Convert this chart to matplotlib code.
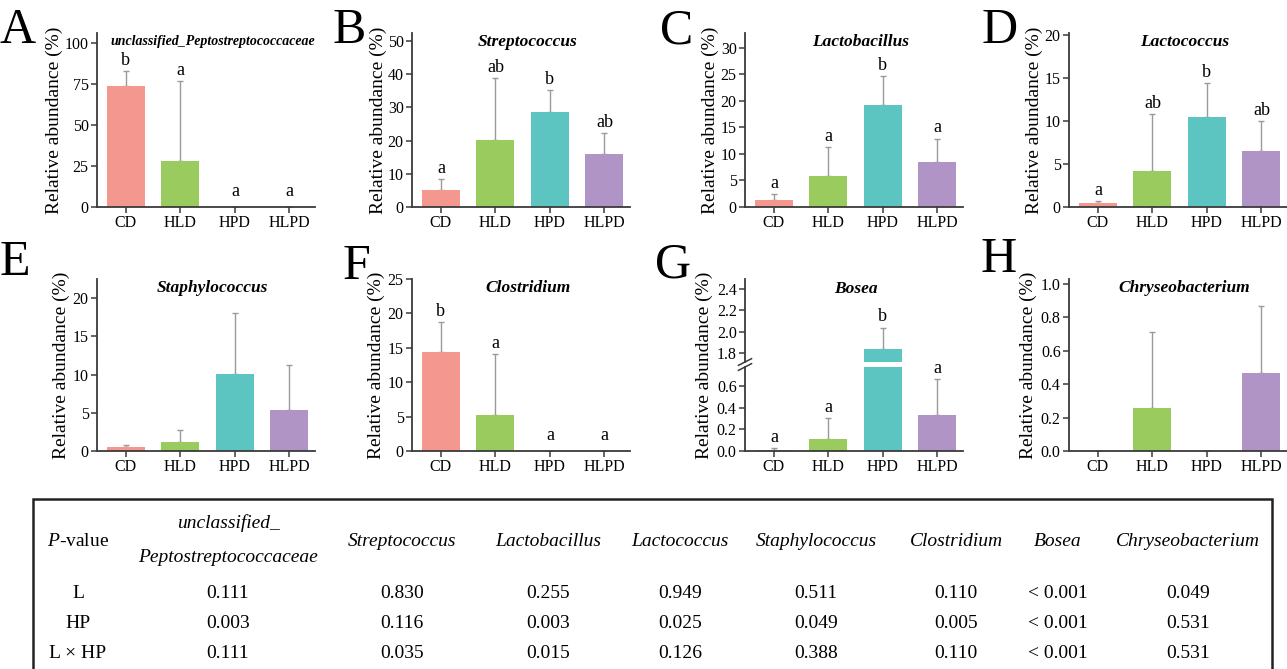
import numpy as np
import matplotlib.pyplot as plt
from matplotlib.patches import Rectangle
from matplotlib.ticker import FormatStrFormatter

plt.rcParams['font.family'] = 'Liberation Serif'
plt.rcParams['mathtext.fontset'] = 'custom'
plt.rcParams['mathtext.it'] = 'Liberation Serif:italic'
plt.rcParams['mathtext.rm'] = 'Liberation Serif'

groups = ['CD', 'HLD', 'HPD', 'HLPD']
colors = ['#F4978E', '#9ACB5E', '#5CC4C1', '#B194C6']

# mean and upper SD for each genus
mean_A = [73.8, 28.0, 0, 0]
sd_A = [9.0, 49.0, 0, 0]
sig_A = ['b', 'a', 'a', 'a']

mean_B = [5.0, 20.1, 28.6, 16.0]
sd_B = [3.5, 18.6, 6.6, 6.3]
sig_B = ['a', 'ab', 'b', 'ab']

mean_C = [1.4, 5.8, 19.2, 8.5]
sd_C = [1.0, 5.5, 5.5, 4.4]
sig_C = ['a', 'a', 'b', 'a']

mean_D = [0.45, 4.2, 10.5, 6.5]
sd_D = [0.2, 6.6, 3.9, 3.5]
sig_D = ['a', 'ab', 'b', 'ab']

mean_E = [0.55, 1.2, 10.1, 5.3]
sd_E = [0.3, 1.5, 7.9, 5.9]
sig_E = ['', '', '', '']

mean_F = [14.4, 5.2, 0, 0]
sd_F = [4.3, 8.9, 0, 0]
sig_F = ['b', 'a', 'a', 'a']

mean_G = [0.005, 0.11, 1.84, 0.33]
sd_G = [0.025, 0.2, 0.2, 0.34]
sig_G = ['a', 'a', 'b', 'a']

mean_H = [0, 0.26, 0, 0.47]
sd_H = [0, 0.45, 0, 0.40]
sig_H = ['', '', '', '']

taxa = ['unclassified_Peptostreptococcaceae', 'Streptococcus', 'Lactobacillus', 'Lactococcus',
        'Staphylococcus', 'Clostridium', 'Bosea', 'Chryseobacterium']

# p-value table
p_rows = ['L', 'HP', 'L × HP']
p_L = ['0.111', '0.830', '0.255', '0.949', '0.511', '0.110', '< 0.001', '0.049']
p_HP = ['0.003', '0.116', '0.003', '0.025', '0.049', '0.005', '< 0.001', '0.531']
p_LHP = ['0.111', '0.035', '0.015', '0.126', '0.388', '0.110', '< 0.001', '0.531']

W, H = 1287, 669
fig = plt.figure(figsize=(W / 100, H / 100), dpi=100)

def add_ax(x0, ytop, w, h):
    return fig.add_axes([x0 / W, 1 - (ytop + h) / H, w / W, h / H])

def style(ax):
    for s in ['top', 'right']:
        ax.spines[s].set_visible(False)
    for s in ['left', 'bottom']:
        ax.spines[s].set_color('#3a3a3a')
        ax.spines[s].set_linewidth(1.3)
    ax.tick_params(direction='out', length=4, width=1.1, color='#3a3a3a', labelsize=11.5, pad=2)
    ax.set_xlim(-0.53, 3.47)

def bars(ax, means, sds):
    x = np.arange(4)
    ax.bar(x, means, width=0.7, color=colors, zorder=2)
    ax.errorbar(x, means, yerr=[np.zeros(4), sds], fmt='none', ecolor='#9a9a9a',
                elinewidth=1.0, capsize=2, capthick=1.0, zorder=1)

def letters(ax, means, sds, sig):
    for i in range(4):
        top = means[i] + sds[i]
        off = 1.5 if top > 0 else 5
        ax.annotate(sig[i], (i, top), xytext=(0, off), textcoords='offset points',
                    ha='center', va='bottom', fontsize=13)

def ylab(ax, x, y=0.5):
    ax.set_ylabel('Relative abundance (%)', fontsize=14)
    ax.yaxis.set_label_coords(x, y)

cols = [97, 412, 745, 1069]
aw = 218

panels = [
    ('A', cols[0], 0, mean_A, sd_A, sig_A, taxa[0], (0, 106), [0, 25, 50, 75, 100], '%d', -0.155, 10),
    ('B', cols[1], 0, mean_B, sd_B, sig_B, taxa[1], (0, 52.4), [0, 10, 20, 30, 40, 50], '%d', -0.115, 12.5),
    ('C', cols[2], 0, mean_C, sd_C, sig_C, taxa[2], (0, 32.8), [0, 5, 10, 15, 20, 25, 30], '%d', -0.12, 12.5),
    ('D', cols[3], 0, mean_D, sd_D, sig_D, taxa[3], (0, 20.2), [0, 5, 10, 15, 20], '%d', -0.12, 12.5),
    ('E', cols[0], 1, mean_E, sd_E, sig_E, taxa[4], (0, 22.5), [0, 5, 10, 15, 20], '%d', -0.125, 12.5),
    ('F', cols[1], 1, mean_F, sd_F, sig_F, taxa[5], (0, 25), [0, 5, 10, 15, 20, 25], '%d', -0.125, 12.5),
    ('H', cols[3], 1, mean_H, sd_H, sig_H, taxa[7], (0, 1.03), [0, 0.2, 0.4, 0.6, 0.8, 1.0], '%.1f', -0.145, 12.5),
]

row_top = [33, 279]
row_h = [174, 172]

for letter, x0, r, m, s, sig, title, ylim, yt, fmt, lx, tsize in panels:
    ax = add_ax(x0, row_top[r], aw, row_h[r])
    style(ax)
    bars(ax, m, s)
    letters(ax, m, s, sig)
    ax.set_ylim(*ylim)
    ax.set_yticks(yt)
    ax.yaxis.set_major_formatter(FormatStrFormatter(fmt))
    ax.set_xticks(range(4))
    ax.set_xticklabels(groups)
    ylab(ax, lx)
    ax.text(0.53, 0.95, title, transform=ax.transAxes, ha='center', va='center',
            fontsize=tsize, fontweight='bold', fontstyle='italic')

# panel G with broken y axis
axl = add_ax(cols[2], 367, aw, 84)
axu = add_ax(cols[2], 279, aw, 83)
for ax in (axl, axu):
    style(ax)
    bars(ax, mean_G, sd_G)
axl.set_ylim(0, 0.78)
axl.set_yticks([0, 0.2, 0.4, 0.6])
axl.yaxis.set_major_formatter(FormatStrFormatter('%.1f'))
axl.set_xticks(range(4))
axl.set_xticklabels(groups)
axu.set_ylim(1.72, 2.49)
axu.set_yticks([1.8, 2.0, 2.2, 2.4])
axu.yaxis.set_major_formatter(FormatStrFormatter('%.1f'))
axu.spines['bottom'].set_visible(False)
axu.set_xticks([])
for i in range(4):
    top = mean_G[i] + sd_G[i]
    tgt = axu if top > 0.78 else axl
    tgt.annotate(sig_G[i], (i, top), xytext=(0, 1.5), textcoords='offset points',
                 ha='center', va='bottom', fontsize=13)
ylab(axl, -0.145, 1.02)
axu.text(0.51, 0.88, taxa[6], transform=axu.transAxes, ha='center', va='center',
         fontsize=12.5, fontweight='bold', fontstyle='italic')
for ax, yy in ((axl, 1.0), (axu, 0.0)):
    ax.plot([-0.03, 0.03], [yy - 0.04, yy + 0.04], transform=ax.transAxes,
            color='#3a3a3a', lw=1.1, clip_on=False)

# panel letters
letter_pos = {'A': (0, 43), 'B': (333, 43), 'C': (660, 43), 'D': (982, 43),
              'E': (0, 275), 'F': (343, 279), 'G': (655, 278), 'H': (980, 272)}
for k, (px, py) in letter_pos.items():
    fig.text(px / W, 1 - py / H, k, fontsize=36, ha='left', va='baseline')

# table
fig.add_artist(Rectangle((33 / W, -0.1), (1272 - 33) / W, 1 - 499 / H + 0.1,
                         transform=fig.transFigure, fill=False, lw=1.8, ec='#222222'))
col_x = [228, 402, 548, 680, 816, 956, 1058, 1188]
lab_x = 78

def ft(x, y, s, **kw):
    fig.text(x / W, 1 - y / H, s, ha='center', va='center', fontsize=14, **kw)

ft(lab_x, 542, r'$\mathit{P}$-value')
ft(col_x[0], 523, 'unclassified_', fontstyle='italic')
ft(col_x[0], 557, 'Peptostreptococcaceae', fontstyle='italic')
for cx, name in zip(col_x[1:], taxa[1:]):
    ft(cx, 542, name, fontstyle='italic')

for ry, rname, vals in zip([593, 623, 653], p_rows, [p_L, p_HP, p_LHP]):
    ft(lab_x, ry, rname)
    for cx, v in zip(col_x, vals):
        ft(cx, ry, v)

fig.savefig('out.png', dpi=100)
